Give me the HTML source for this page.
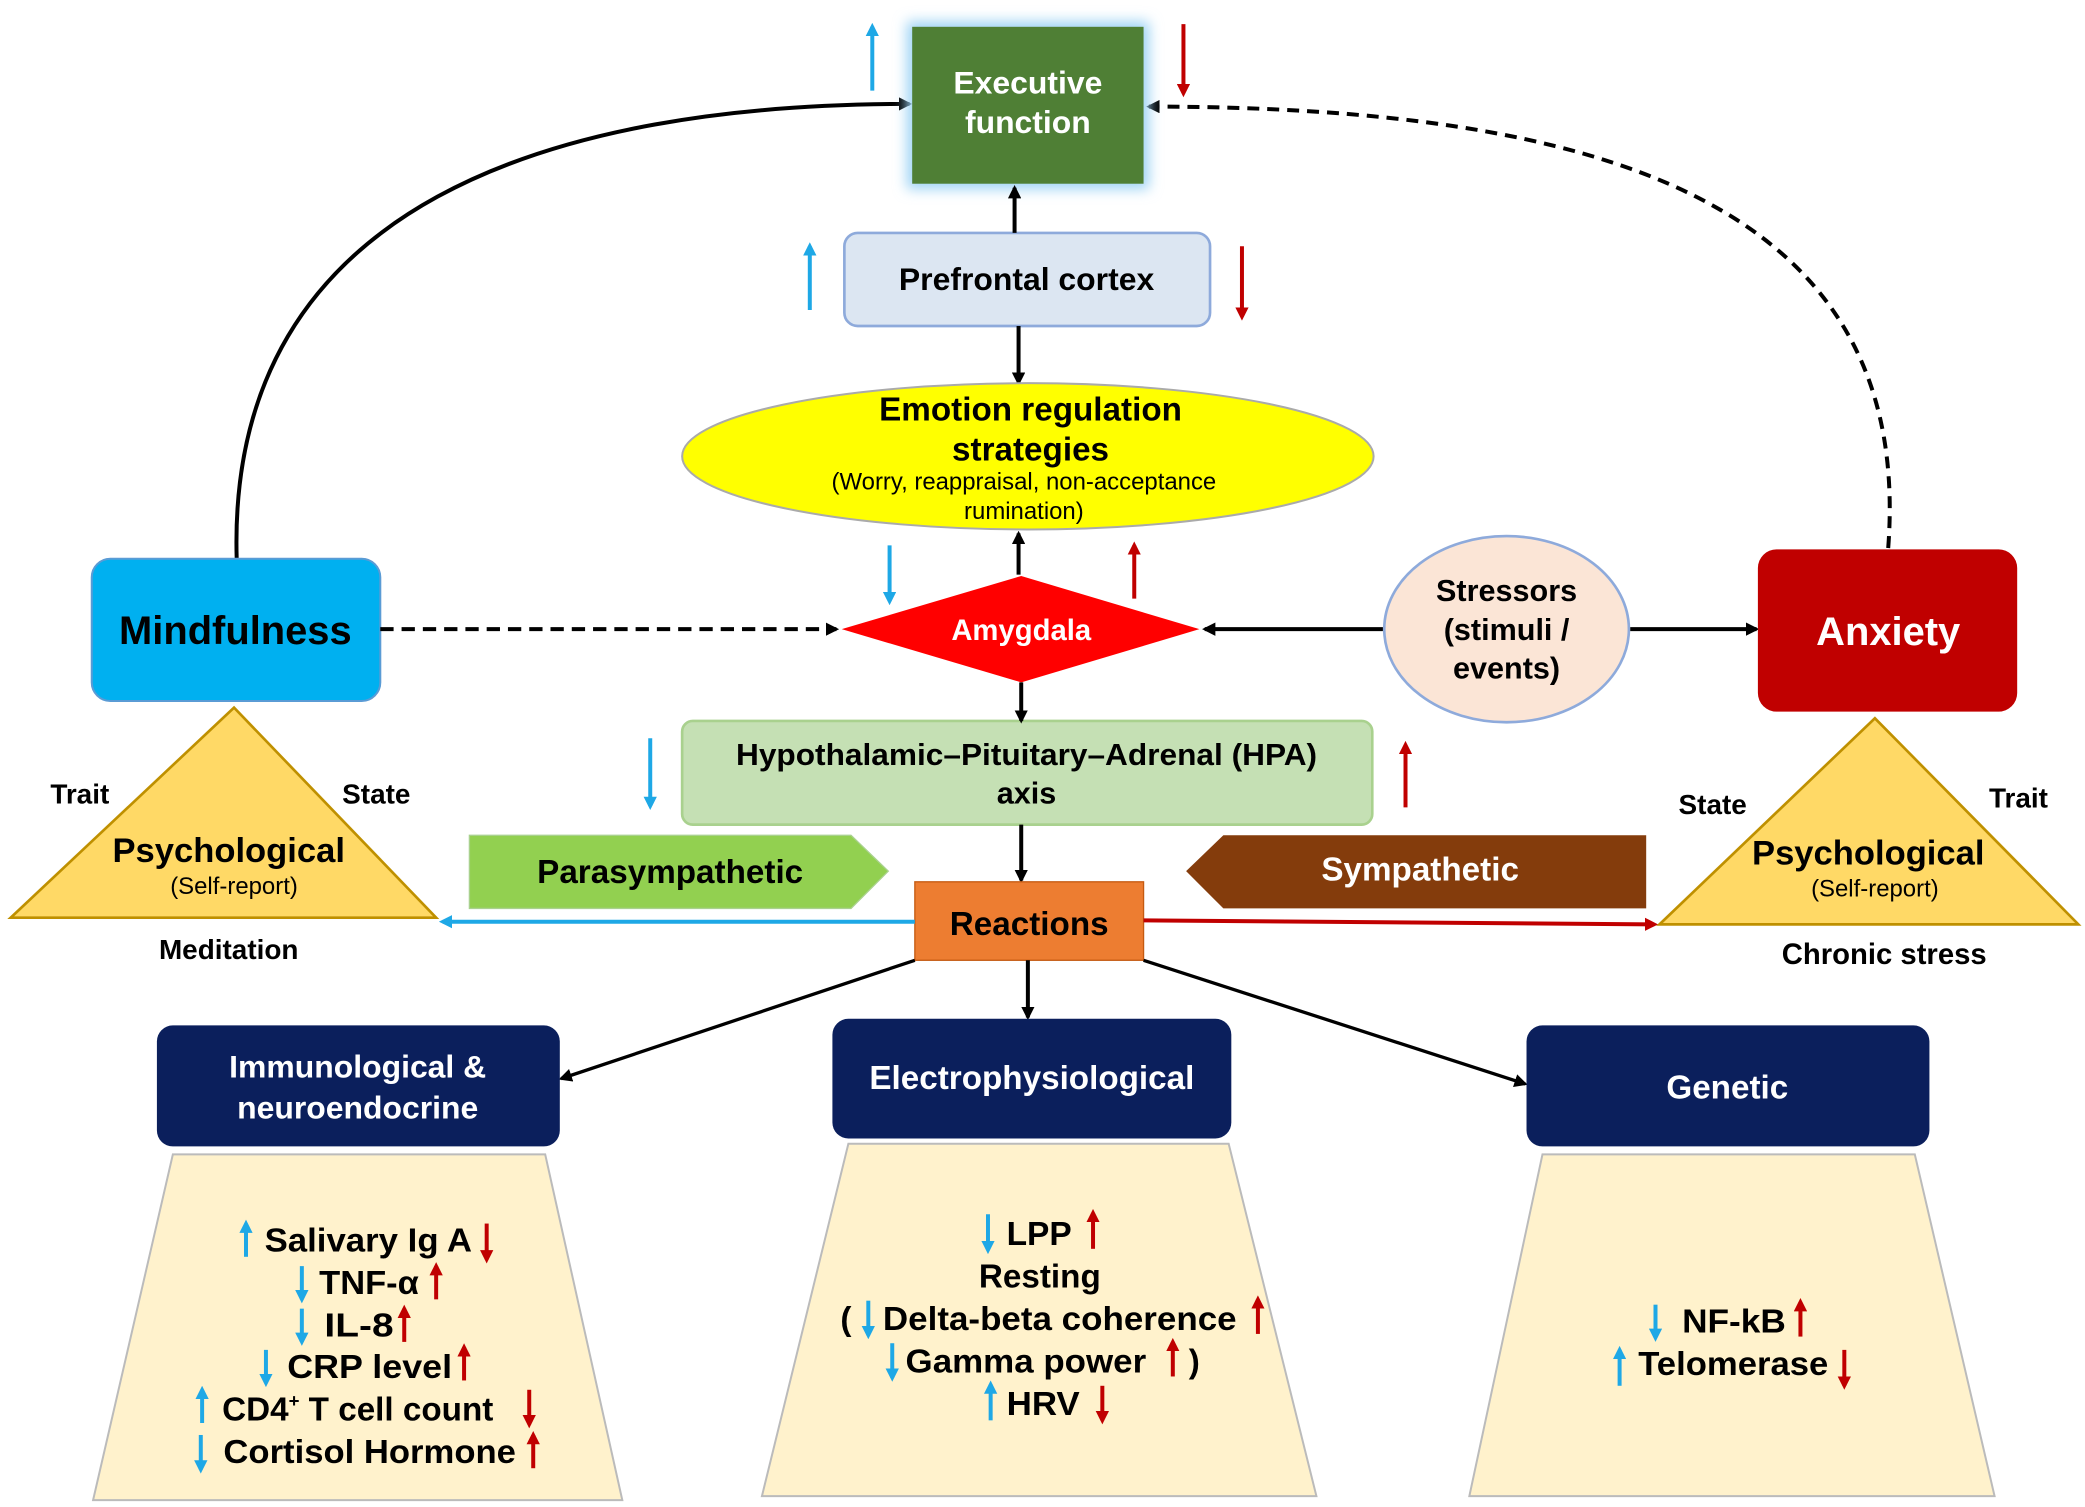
<!DOCTYPE html>
<html><head><meta charset="utf-8"><style>
html,body{margin:0;padding:0;background:#fff;}
svg{display:block;font-family:"Liberation Sans",Arial,sans-serif;}
text{font-weight:bold;}
</style></head><body>
<svg width="2085" height="1507" viewBox="0 0 1568 1133" xmlns="http://www.w3.org/2000/svg">
<defs>
<marker id="mk" markerWidth="10" markerHeight="10" refX="8" refY="5" orient="auto" markerUnits="userSpaceOnUse"><path d="M0,0 L10,5 L0,10 z" fill="#000"/></marker>
<marker id="mb" markerWidth="10" markerHeight="10" refX="7" refY="5" orient="auto" markerUnits="userSpaceOnUse"><path d="M0,0 L10,5 L0,10 z" fill="#1ea8e6"/></marker>
<marker id="mr" markerWidth="10" markerHeight="10" refX="7" refY="5" orient="auto" markerUnits="userSpaceOnUse"><path d="M0,0 L10,5 L0,10 z" fill="#c00000"/></marker>
<filter id="glow" x="-20%" y="-20%" width="140%" height="140%"><feGaussianBlur stdDeviation="5"/></filter>
</defs>

<path d="M178,420 C170,150 420,78 684,78" fill="none" stroke="#000" stroke-width="3" marker-end="url(#mk)"/>
<path d="M1420,412 C1440,150 1200,80 864,80" fill="none" stroke="#000" stroke-width="3" stroke-dasharray="9,6" marker-end="url(#mk)"/>

<rect x="682" y="16" width="182" height="126" fill="#9dd3f5" filter="url(#glow)"/>
<rect x="686" y="20" width="174" height="118" fill="#4f7f35"/>
<text x="773" y="70" font-size="24" fill="#fff" text-anchor="middle">Executive</text>
<text x="773" y="100" font-size="24" fill="#fff" text-anchor="middle">function</text>
<line x1="656" y1="68" x2="656" y2="20" stroke="#1ea8e6" stroke-width="3" marker-end="url(#mb)"/>
<line x1="890" y1="18" x2="890" y2="70" stroke="#c00000" stroke-width="3" marker-end="url(#mr)"/>

<rect x="635" y="175" width="275" height="70" rx="10" fill="#dce6f2" stroke="#8eaadb" stroke-width="2"/>
<text x="772" y="218" font-size="24" text-anchor="middle">Prefrontal cortex</text>
<line x1="609" y1="233" x2="609" y2="185" stroke="#1ea8e6" stroke-width="3" marker-end="url(#mb)"/>
<line x1="934" y1="185" x2="934" y2="238" stroke="#c00000" stroke-width="3" marker-end="url(#mr)"/>
<line x1="763" y1="175" x2="763" y2="141" stroke="#000" stroke-width="3" marker-end="url(#mk)"/>
<line x1="766" y1="245" x2="766" y2="288" stroke="#000" stroke-width="3" marker-end="url(#mk)"/>

<ellipse cx="773" cy="343" rx="260" ry="55" fill="#ffff00" stroke="#aaa" stroke-width="1.5"/>
<text x="775" y="316" font-size="25" text-anchor="middle">Emotion regulation</text>
<text x="775" y="346" font-size="25" text-anchor="middle">strategies</text>
<text x="770" y="368" font-size="18" style="font-weight:normal" text-anchor="middle">(Worry, reappraisal, non-acceptance</text>
<text x="770" y="390" font-size="18" style="font-weight:normal" text-anchor="middle">rumination)</text>
<line x1="766" y1="432" x2="766" y2="401" stroke="#000" stroke-width="3" marker-end="url(#mk)"/>
<line x1="669" y1="410" x2="669" y2="452" stroke="#1ea8e6" stroke-width="3" marker-end="url(#mb)"/>
<line x1="853" y1="450" x2="853" y2="410" stroke="#c00000" stroke-width="3" marker-end="url(#mr)"/>

<polygon points="633,473 768,433 902,473 768,513" fill="#ff0000"/>
<text x="768" y="481" font-size="22" fill="#fff" text-anchor="middle">Amygdala</text>

<rect x="69" y="420" width="217" height="107" rx="14" fill="#00b0f0" stroke="#5a9bd5" stroke-width="1.5"/>
<text x="177" y="484" font-size="30" text-anchor="middle">Mindfulness</text>
<line x1="286" y1="473" x2="629" y2="473" stroke="#000" stroke-width="3" stroke-dasharray="10,6" marker-end="url(#mk)"/>

<ellipse cx="1133" cy="473" rx="92" ry="70" fill="#fbe5d6" stroke="#8eaadb" stroke-width="2"/>
<text x="1133" y="452" font-size="23" text-anchor="middle">Stressors</text>
<text x="1133" y="481" font-size="23" text-anchor="middle">(stimuli /</text>
<text x="1133" y="510" font-size="23" text-anchor="middle">events)</text>
<line x1="1040" y1="473" x2="906" y2="473" stroke="#000" stroke-width="3" marker-end="url(#mk)"/>
<line x1="1226" y1="473" x2="1321" y2="473" stroke="#000" stroke-width="3" marker-end="url(#mk)"/>

<rect x="1322" y="413" width="195" height="122" rx="14" fill="#c00000"/>
<text x="1420" y="485" font-size="30" fill="#fff" text-anchor="middle">Anxiety</text>

<rect x="513" y="542" width="519" height="78" rx="8" fill="#c5e0b4" stroke="#a9d18e" stroke-width="2"/>
<text x="772" y="575" font-size="23" text-anchor="middle" textLength="437" lengthAdjust="spacingAndGlyphs">Hypothalamic–Pituitary–Adrenal (HPA)</text>
<text x="772" y="604" font-size="23" text-anchor="middle">axis</text>
<line x1="489" y1="555" x2="489" y2="606" stroke="#1ea8e6" stroke-width="3" marker-end="url(#mb)"/>
<line x1="1057" y1="607" x2="1057" y2="560" stroke="#c00000" stroke-width="3" marker-end="url(#mr)"/>
<line x1="768" y1="513" x2="768" y2="542" stroke="#000" stroke-width="3" marker-end="url(#mk)"/>
<line x1="768" y1="620" x2="768" y2="662" stroke="#000" stroke-width="3" marker-end="url(#mk)"/>

<polygon points="353,628 640,628 668,655 640,683 353,683" fill="#92d050" stroke="#a9d18e"/>
<text x="504" y="664" font-size="25" text-anchor="middle">Parasympathetic</text>
<polygon points="920,628 1238,628 1238,683 920,683 892,655" fill="#843c0c"/>
<text x="1068" y="662" font-size="25" fill="#fff" text-anchor="middle">Sympathetic</text>

<rect x="688" y="663" width="172" height="59" fill="#ed7d31" stroke="#c55a11"/>
<text x="774" y="703" font-size="25" text-anchor="middle">Reactions</text>
<line x1="688" y1="693" x2="333" y2="693" stroke="#1ea8e6" stroke-width="3" marker-end="url(#mb)"/>
<line x1="860" y1="692" x2="1244" y2="695" stroke="#c00000" stroke-width="3" marker-end="url(#mr)"/>

<polygon points="8,690 176,532 328,690" fill="#ffd966" stroke="#bf9000" stroke-width="2"/>
<text x="60" y="604" font-size="21" text-anchor="middle">Trait</text>
<text x="283" y="604" font-size="21" text-anchor="middle">State</text>
<text x="172" y="648" font-size="26" text-anchor="middle">Psychological</text>
<text x="176" y="672" font-size="18" style="font-weight:normal" text-anchor="middle">(Self-report)</text>
<text x="172" y="721" font-size="21" text-anchor="middle">Meditation</text>

<polygon points="1248,695 1410,540 1563,695" fill="#ffd966" stroke="#bf9000" stroke-width="2"/>
<text x="1288" y="612" font-size="21" text-anchor="middle">State</text>
<text x="1518" y="607" font-size="21" text-anchor="middle">Trait</text>
<text x="1405" y="650" font-size="26" text-anchor="middle">Psychological</text>
<text x="1410" y="674" font-size="18" style="font-weight:normal" text-anchor="middle">(Self-report)</text>
<text x="1417" y="725" font-size="22" text-anchor="middle">Chronic stress</text>

<line x1="688" y1="722" x2="422" y2="811" stroke="#000" stroke-width="2.5" marker-end="url(#mk)"/>
<line x1="773" y1="722" x2="773" y2="765" stroke="#000" stroke-width="3" marker-end="url(#mk)"/>
<line x1="860" y1="722" x2="1147" y2="815" stroke="#000" stroke-width="2.5" marker-end="url(#mk)"/>

<polygon points="130,868 410,868 468,1128 70,1128" fill="#fff2cc" stroke="#bbb" stroke-width="1.5"/>
<polygon points="638,860 924,860 990,1125 573,1125" fill="#fff2cc" stroke="#bbb" stroke-width="1.5"/>
<polygon points="1160,868 1440,868 1500,1125 1105,1125" fill="#fff2cc" stroke="#bbb" stroke-width="1.5"/>

<rect x="118" y="771" width="303" height="91" rx="12" fill="#0b1f5c"/>
<text x="269" y="810" font-size="24" fill="#fff" text-anchor="middle">Immunological &amp;</text>
<text x="269" y="841" font-size="24" fill="#fff" text-anchor="middle">neuroendocrine</text>
<rect x="626" y="766" width="300" height="90" rx="12" fill="#0b1f5c"/>
<text x="776" y="819" font-size="25" fill="#fff" text-anchor="middle">Electrophysiological</text>
<rect x="1148" y="771" width="303" height="91" rx="12" fill="#0b1f5c"/>
<text x="1299" y="826" font-size="25" fill="#fff" text-anchor="middle">Genetic</text>

<g font-size="25">
<text x="199" y="941" textLength="156" lengthAdjust="spacingAndGlyphs">Salivary Ig A</text>
<text x="240" y="973" textLength="75" lengthAdjust="spacingAndGlyphs">TNF-α</text>
<text x="244" y="1005" textLength="52" lengthAdjust="spacingAndGlyphs">IL-8</text>
<text x="216" y="1036" textLength="124" lengthAdjust="spacingAndGlyphs">CRP level</text>
<text x="167" y="1068">CD4<tspan font-size="14" dy="-10">+</tspan><tspan dy="10"> T cell count</tspan></text>
<text x="168" y="1100" textLength="220" lengthAdjust="spacingAndGlyphs">Cortisol Hormone</text>

<text x="757" y="936" textLength="49" lengthAdjust="spacingAndGlyphs">LPP</text>
<text x="782" y="968" text-anchor="middle">Resting</text>
<text x="632" y="1000">(</text>
<text x="664" y="1000" textLength="266" lengthAdjust="spacingAndGlyphs">Delta-beta coherence</text>
<text x="681" y="1032" textLength="181" lengthAdjust="spacingAndGlyphs">Gamma power</text>
<text x="894" y="1032">)</text>
<text x="757" y="1064" textLength="55" lengthAdjust="spacingAndGlyphs">HRV</text>

<text x="1265" y="1002" textLength="78" lengthAdjust="spacingAndGlyphs">NF-kB</text>
<text x="1232" y="1034" textLength="143" lengthAdjust="spacingAndGlyphs">Telomerase</text>
</g>
<g stroke-width="3">
<line x1="185" y1="945" x2="185" y2="920" stroke="#1ea8e6" marker-end="url(#mb)"/>
<line x1="366" y1="920" x2="366" y2="947" stroke="#c00000" marker-end="url(#mr)"/>
<line x1="227" y1="952" x2="227" y2="977" stroke="#1ea8e6" marker-end="url(#mb)"/>
<line x1="328" y1="977" x2="328" y2="952" stroke="#c00000" marker-end="url(#mr)"/>
<line x1="227" y1="984" x2="227" y2="1009" stroke="#1ea8e6" marker-end="url(#mb)"/>
<line x1="304" y1="1009" x2="304" y2="984" stroke="#c00000" marker-end="url(#mr)"/>
<line x1="200" y1="1015" x2="200" y2="1040" stroke="#1ea8e6" marker-end="url(#mb)"/>
<line x1="349" y1="1038" x2="349" y2="1013" stroke="#c00000" marker-end="url(#mr)"/>
<line x1="152" y1="1070" x2="152" y2="1045" stroke="#1ea8e6" marker-end="url(#mb)"/>
<line x1="398" y1="1045" x2="398" y2="1071" stroke="#c00000" marker-end="url(#mr)"/>
<line x1="151" y1="1079" x2="151" y2="1105" stroke="#1ea8e6" marker-end="url(#mb)"/>
<line x1="401" y1="1104" x2="401" y2="1079" stroke="#c00000" marker-end="url(#mr)"/>
<line x1="743" y1="913" x2="743" y2="940" stroke="#1ea8e6" marker-end="url(#mb)"/>
<line x1="822" y1="939" x2="822" y2="912" stroke="#c00000" marker-end="url(#mr)"/>
<line x1="653" y1="978" x2="653" y2="1004" stroke="#1ea8e6" marker-end="url(#mb)"/>
<line x1="946" y1="1003" x2="946" y2="977" stroke="#c00000" marker-end="url(#mr)"/>
<line x1="671" y1="1010" x2="671" y2="1036" stroke="#1ea8e6" marker-end="url(#mb)"/>
<line x1="882" y1="1035" x2="882" y2="1009" stroke="#c00000" marker-end="url(#mr)"/>
<line x1="745" y1="1068" x2="745" y2="1041" stroke="#1ea8e6" marker-end="url(#mb)"/>
<line x1="829" y1="1042" x2="829" y2="1068" stroke="#c00000" marker-end="url(#mr)"/>
<line x1="1245" y1="981" x2="1245" y2="1006" stroke="#1ea8e6" marker-end="url(#mb)"/>
<line x1="1354" y1="1005" x2="1354" y2="979" stroke="#c00000" marker-end="url(#mr)"/>
<line x1="1218" y1="1042" x2="1218" y2="1015" stroke="#1ea8e6" marker-end="url(#mb)"/>
<line x1="1387" y1="1015" x2="1387" y2="1042" stroke="#c00000" marker-end="url(#mr)"/>
</g>
</svg>
</body></html>
